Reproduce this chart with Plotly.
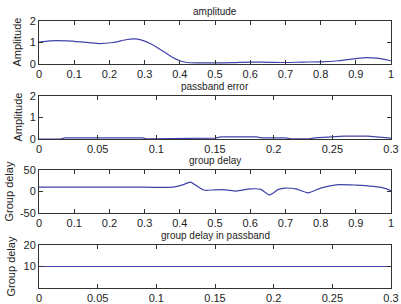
import plotly.graph_objects as go

# ---- data ----
amp_x = [0.0, 0.03, 0.08, 0.12, 0.17, 0.21, 0.25, 0.27, 0.29, 0.32, 0.35, 0.38, 0.40, 0.42, 0.45, 0.50, 0.55, 0.60, 0.65, 0.70, 0.75, 0.80, 0.85, 0.90, 0.93, 0.96, 1.0]
amp_y = [1.02, 1.08, 1.08, 1.03, 0.95, 1.0, 1.14, 1.17, 1.12, 0.92, 0.62, 0.3, 0.15, 0.07, 0.05, 0.05, 0.06, 0.09, 0.08, 0.07, 0.09, 0.1, 0.15, 0.25, 0.3, 0.27, 0.15]

err_x = [0.0, 0.018, 0.022, 0.088, 0.092, 0.13, 0.135, 0.15, 0.155, 0.185, 0.19, 0.21, 0.215, 0.23, 0.235, 0.25, 0.26, 0.28, 0.29, 0.3]
err_y = [0.0, 0.0, 0.05, 0.05, 0.01, 0.01, 0.04, 0.04, 0.1, 0.1, 0.05, 0.05, 0.01, 0.01, 0.05, 0.08, 0.13, 0.13, 0.1, 0.04]

gd_x = [0.0, 0.1, 0.2, 0.3, 0.38, 0.41, 0.43, 0.45, 0.47, 0.50, 0.53, 0.56, 0.60, 0.63, 0.655, 0.68, 0.70, 0.73, 0.765, 0.80, 0.85, 0.90, 0.95, 0.98, 1.0]
gd_y = [10, 10, 10, 10, 10, 16, 22, 12, 3, 4, 4, 1, 6, 5, -8, 5, 8, 6, -3, 8, 16, 15, 12, 8, 2]

gdp_x = [0.0, 0.3]
gdp_y = [10, 10]

titles = ["amplitude", "passband error", "group delay", "group delay in passband"]
ytitles = ["Amplitude", "Amplitude", "Group delay", "Group delay"]

full_ticks = [0, 0.1, 0.2, 0.3, 0.4, 0.5, 0.6, 0.7, 0.8, 0.9, 1]
full_labels = ["0", "0.1", "0.2", "0.3", "0.4", "0.5", "0.6", "0.7", "0.8", "0.9", "1"]
pass_ticks = [0, 0.05, 0.1, 0.15, 0.2, 0.25, 0.3]
pass_labels = ["0", "0.05", "0.1", "0.15", "0.2", "0.25", "0.3"]

# ---- figure ----
LINE = "#4242a8"
AX = "#333333"
FONT = "Liberation Sans, Arial, sans-serif"

W, H = 401, 304
L, R, T, B = 39, 10, 21, 16
ph = H - T - B

def dom(top_px, bot_px):
    return [(H - B - bot_px) / ph, (H - B - top_px) / ph]

domains = [dom(21, 64), dom(96, 139), dom(170, 213), dom(245, 288)]
ytitle_centers = [17, 17, 8, 10]

fig = go.Figure()
series = [(amp_x, amp_y, "spline"), (err_x, err_y, "linear"), (gd_x, gd_y, "spline"), (gdp_x, gdp_y, "linear")]
for i, (xs, ys, shape) in enumerate(series):
    fig.add_trace(go.Scatter(x=xs, y=ys, mode="lines",
                             line=dict(color=LINE, width=1.2, shape=shape, smoothing=0.6),
                             xaxis="x" if i == 0 else f"x{i+1}",
                             yaxis="y" if i == 0 else f"y{i+1}",
                             showlegend=False, hoverinfo="skip"))

xcfg = [(full_ticks, full_labels, [0, 1]), (pass_ticks, pass_labels, [0, 0.3]),
        (full_ticks, full_labels, [0, 1]), (pass_ticks, pass_labels, [0, 0.3])]
ycfg = [([0, 1, 2], ["0", "1", "2"], [0, 2]), ([0, 1, 2], ["0", "1", "2"], [0, 2]),
        ([-50, 0, 50], ["-50", "0", "50"], [-50, 50]), ([10, 20], ["10", "20"], [0, 20])]

common = dict(showline=True, linecolor=AX, linewidth=1, mirror="ticks", ticks="inside",
              ticklen=4, tickcolor=AX, showgrid=False, zeroline=False, automargin=False,
              tickfont=dict(family=FONT, size=11, color="#222222"), fixedrange=True)

layout = dict(width=W, height=H, margin=dict(l=L, r=R, t=T, b=B),
              paper_bgcolor="white", plot_bgcolor="white",
              font=dict(family=FONT, size=11, color="#222222"))
annotations = []
for i in range(4):
    xn = "xaxis" if i == 0 else f"xaxis{i+1}"
    yn = "yaxis" if i == 0 else f"yaxis{i+1}"
    xa = "x" if i == 0 else f"x{i+1}"
    ya = "y" if i == 0 else f"y{i+1}"
    tv, tt, rg = xcfg[i]
    layout[xn] = dict(common, domain=[0, 1], anchor=ya, range=rg, tickvals=tv, ticktext=tt)
    tv, tt, rg = ycfg[i]
    layout[yn] = dict(common, domain=domains[i], anchor=xa, range=rg, tickvals=tv, ticktext=tt)
    annotations.append(dict(text=titles[i], x=0.5, y=domains[i][1], xref="paper", yref="paper",
                            xanchor="center", yanchor="bottom", yshift=2, showarrow=False,
                            font=dict(family=FONT, size=10, color="#222222")))
    annotations.append(dict(text=ytitles[i], x=0, y=(domains[i][0] + domains[i][1]) / 2,
                            xref="paper", yref="paper", xanchor="center", yanchor="middle",
                            xshift=ytitle_centers[i] - L, textangle=-90, showarrow=False,
                            font=dict(family=FONT, size=11, color="#222222")))
layout["annotations"] = annotations
fig.update_layout(**layout)

fig.write_html("out.html", config={"displayModeBar": False},
               post_script="document.body.style.margin='0';document.body.style.overflow='hidden';")
